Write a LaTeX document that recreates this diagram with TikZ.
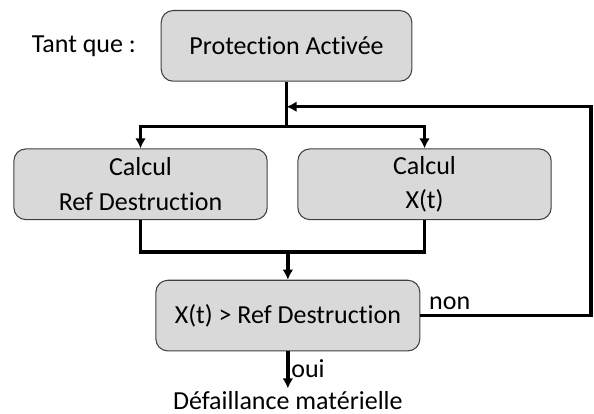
\documentclass[tikz,border=0pt]{standalone}
\usepackage{fontspec}
\setmainfont{Carlito}[Ligatures=NoCommon]
\usetikzlibrary{arrows.meta, positioning}

\begin{document}
\begin{tikzpicture}[
    >={Latex[length=7.5pt,width=8pt]},
    line/.style={line width=2.5pt},
    arrow/.style={line, ->},
    box/.style={rectangle, rounded corners=9pt, draw=black!75, line width=0.8pt,
                fill=black!15, align=center, minimum height=53pt},
    every node/.style={font=\fontsize{19.5}{26}\selectfont}
]

\node[box, minimum width=188pt] (prot) {Protection Activée};
\node[left=15pt of prot] (tant) {Tant que :};

\node[box, minimum width=190pt, below=50pt of prot, xshift=-109.5pt] (ref) {Calcul\\Ref Destruction};
\node[box, minimum width=190pt, below=50pt of prot, xshift=103.5pt] (xt) {Calcul\\X(t)};

\node[box, minimum width=198pt, below=148.5pt of prot, xshift=1pt] (dec) {X(t) > Ref Destruction};
\node[anchor=base, inner ysep=2pt] (def) at ([yshift=-43.5pt]dec.south) {Défaillance matérielle};

\useasboundingbox ([xshift=-214.9pt,yshift=7.5pt]prot.north) rectangle ++(445.5pt,-310.5pt);

% split to the two calculations
\draw[line] (prot.south) -- ++(0,-33.75pt) coordinate (split);
\draw[arrow] (split) -| (ref.north);
\draw[arrow] (split) -| (xt.north);

% merge to the test
\draw[line] (ref.south) -- ++(0,-24pt) -| (xt.south);
\draw[arrow] ([yshift=20.25pt]dec.north) -- (dec.north);

% non: back to the loop
\coordinate (loopin) at ([yshift=-18.75pt]prot.south);
\coordinate (back) at ([xshift=228.4pt]prot.center);
\draw[arrow] (dec.east) node[above right, xshift=2pt] {non} -- (dec.east -| back) -- (back |- loopin) -- (loopin);

% oui
\draw[arrow] (dec.south) -- node[right, pos=0.47, xshift=-2pt] {oui} (def.north);

\end{tikzpicture}
\end{document}
